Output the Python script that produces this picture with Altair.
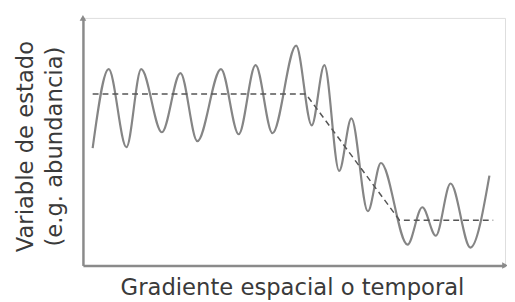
import altair as alt
import pandas as pd

# Oscillating state variable (extrema, arbitrary 0-100 units)
wave_x = [2.3, 6.1, 10.3, 13.8, 18.7, 23.1, 27.1, 32.7, 36.9, 40.9, 44.9, 50.5,
          54.2, 57.2, 60.7, 63.6, 67.5, 70.6, 76.9, 80.4, 83.6, 87.1, 91.8, 96.3]
wave_y = [47.4, 79.3, 47.8, 79.3, 53.8, 77.7, 50.2, 79.3, 53.0, 80.9, 53.4, 88.8,
          56.6, 80.9, 38.2, 59.4, 21.9, 41.4, 8.4, 23.5, 12.0, 33.1, 7.2, 36.3]

# Mean trend (dashed)
trend_x = [2.3, 52.8, 75.0, 97.2]
trend_y = [69.3, 69.3, 18.3, 18.3]

# Axis arrowheads
arrow_x = [0, 100]
arrow_y = [100, 0]
arrow_shape = ["triangle-up", "triangle-right"]

x_title = "Gradiente espacial o temporal"
y_title = ["Variable de estado", "(e.g. abundancia)"]

wave = pd.DataFrame({"x": wave_x, "y": wave_y})
trend = pd.DataFrame({"x": trend_x, "y": trend_y})
arrows = pd.DataFrame({"x": arrow_x, "y": arrow_y, "shape": arrow_shape})

FONT = "DejaVu Sans"
AXIS_COLOR = "#8a8a8a"

xs = alt.Scale(domain=[0, 100], nice=False, zero=False)
ys = alt.Scale(domain=[0, 100], nice=False, zero=False)

x_axis = alt.Axis(title=x_title, ticks=False, labels=False, grid=False,
                  domainColor=AXIS_COLOR, domainWidth=2.5,
                  titleFont=FONT, titleFontSize=23, titleFontWeight="normal",
                  titleColor="#3a3a3a", titleX=212, titleY=29,
                  titleBaseline="alphabetic", titleAlign="center")
y_axis = alt.Axis(title=y_title, ticks=False, labels=False, grid=False,
                  domainColor=AXIS_COLOR, domainWidth=2.5,
                  titleFont=FONT, titleFontSize=23, titleFontWeight="normal",
                  titleColor="#3a3a3a", titleAngle=270, titleX=-51, titleY=130,
                  titleBaseline="alphabetic", titleAlign="center",
                  titleLineHeight=29)

line = alt.Chart(wave).mark_line(
    interpolate="monotone", color="#858585", strokeWidth=2.2
).encode(
    x=alt.X("x:Q", scale=xs, axis=x_axis),
    y=alt.Y("y:Q", scale=ys, axis=y_axis),
)

dash = alt.Chart(trend).mark_line(
    color="#555555", strokeWidth=1.5, strokeDash=[6, 4]
).encode(x=alt.X("x:Q", scale=xs), y=alt.Y("y:Q", scale=ys))

heads = alt.Chart(arrows).mark_point(
    filled=True, color=AXIS_COLOR, size=45, opacity=1
).encode(
    x=alt.X("x:Q", scale=xs),
    y=alt.Y("y:Q", scale=ys),
    shape=alt.Shape("shape:N", scale=None),
)

chart = alt.layer(line, dash, heads).properties(
    width=428, height=251,
    autosize=alt.AutoSizeParams(type="none"),
    padding={"left": 76, "top": 8, "right": 2, "bottom": 35},
).configure_view(stroke=None).configure(background="white")

chart.save("out.html", embed_options={"renderer": "svg", "actions": False})
